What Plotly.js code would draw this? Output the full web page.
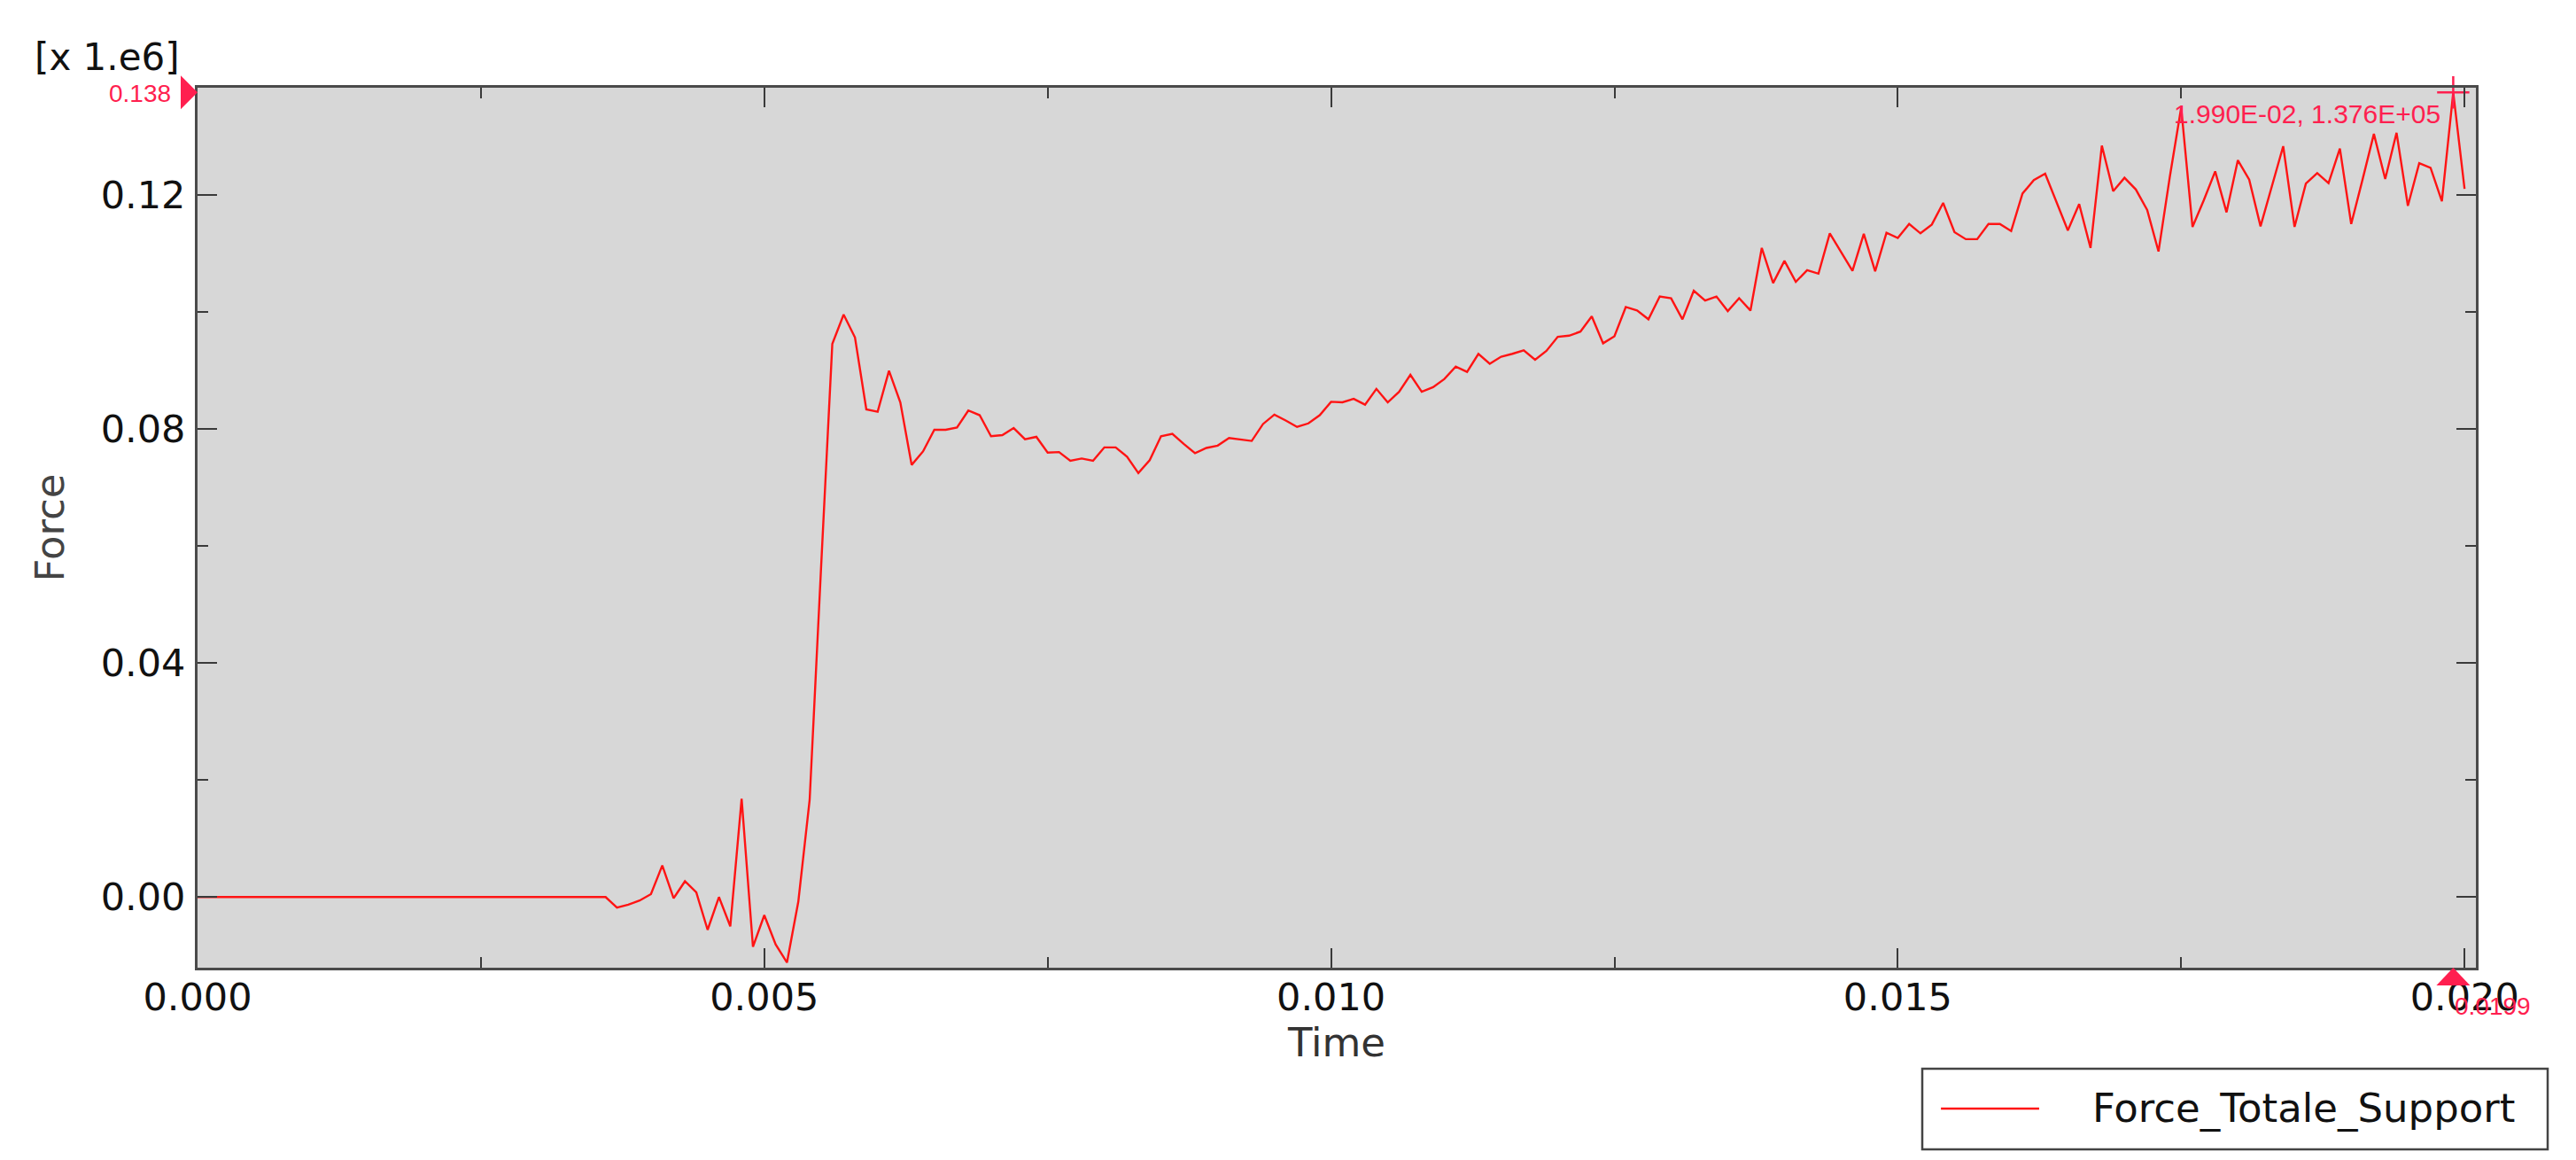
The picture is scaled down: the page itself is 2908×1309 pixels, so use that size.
<!DOCTYPE html>
<html>
<head>
<meta charset="utf-8">
<script src="https://cdn.plot.ly/plotly-3.0.1.min.js"></script>
<style>
  html, body { margin: 0; padding: 0; background: #fff; }
  #chart { width: 2908px; height: 1309px; }
</style>
</head>
<body>
<div id="chart"></div>
<script>
// sampling of the history output (s)
var timeStart = 0;
var timeStep = 0.0001;

// Force_Totale_Support, in units of 1e6 N
var forceValues = [
  0, 0, 0, 0, 0, 0, 0, 0, 0, 0,
  0, 0, 0, 0, 0, 0, 0, 0, 0, 0,
  0, 0, 0, 0, 0, 0, 0, 0, 0, 0,
  0, 0, 0, 0, 0, 0, 0, -0.0018, -0.0013, -0.0006,
  0.0005, 0.0054, -0.0002, 0.0027, 0.0008, -0.0056, 0.0000, -0.0050, 0.0168, -0.0085,
  -0.0031, -0.0081, -0.0112, -0.0008, 0.0166, 0.0560, 0.0946, 0.0996, 0.0957, 0.0834,
  0.0830, 0.0900, 0.0846, 0.0739, 0.0762, 0.0799, 0.0799, 0.0803, 0.0832, 0.0824,
  0.0788, 0.0790, 0.0802, 0.0783, 0.0787, 0.0760, 0.0761, 0.0746, 0.0750, 0.0746,
  0.0769, 0.0769, 0.0753, 0.0725, 0.0747, 0.0788, 0.0792, 0.0775, 0.0759, 0.0768,
  0.0772, 0.0785, 0.0783, 0.0780, 0.0809, 0.0825, 0.0815, 0.0804, 0.0810, 0.0824,
  0.0847, 0.0846, 0.0852, 0.0842, 0.0869, 0.0846, 0.0864, 0.0893, 0.0864, 0.0872,
  0.0886, 0.0907, 0.0898, 0.0929, 0.0912, 0.0924, 0.0929, 0.0935, 0.0919, 0.0934,
  0.0958, 0.0960, 0.0967, 0.0993, 0.0947, 0.0959, 0.1009, 0.1003, 0.0988, 0.1027,
  0.1024, 0.0988, 0.1037, 0.1020, 0.1027, 0.1002, 0.1024, 0.1003, 0.1110, 0.1050,
  0.1088, 0.1052, 0.1072, 0.1066, 0.1135, 0.1103, 0.1071, 0.1134, 0.1070, 0.1136,
  0.1127, 0.1151, 0.1135, 0.1150, 0.1187, 0.1137, 0.1125, 0.1125, 0.1151, 0.1151,
  0.1139, 0.1203, 0.1226, 0.1237, 0.1188, 0.1140, 0.1185, 0.1110, 0.1285, 0.1207,
  0.1230, 0.1210, 0.1175, 0.1104, 0.1232, 0.1350, 0.1146, 0.1192, 0.1241, 0.1171,
  0.1260, 0.1227, 0.1147, 0.1215, 0.1284, 0.1146, 0.1220, 0.1238, 0.1221, 0.1280,
  0.1151, 0.1227, 0.1305, 0.1228, 0.1307, 0.1182, 0.1255, 0.1247, 0.1190, 0.1376,
  0.1211
];

var seriesName = "Force_Totale_Support";
var xTickVals = [0, 0.005, 0.010, 0.015, 0.020];
var yTickVals = [0, 0.04, 0.08, 0.12];
var xRange = [0, 0.0201];
var yRange = [-0.01208, 0.1384];

var RED_LINE = "#ff1414";
var RED_MARK = "#ff1f4f";
var FONT = "DejaVu Sans";

// position of the maximum (Abaqus style min/max probe)
var iMax = 0;
forceValues.forEach(function (v, i) { if (v > forceValues[iMax]) iMax = i; });
var tMax = +(timeStart + iMax * timeStep).toFixed(6);
var vMax = forceValues[iMax];
var vMaxPaper = (vMax - yRange[0]) / (yRange[1] - yRange[0]);

function fmtE(v) {
    var s = v.toExponential(3).toUpperCase();
    return s.replace(/E([+-])(\d)$/, "E$10$2");
}

var traces = [{
    type: "scatter",
    mode: "lines",
    name: seriesName,
    x0: timeStart,
    dx: timeStep,
    y: forceValues,
    line: { color: RED_LINE, width: 2.4 },
    showlegend: false,
    hoverinfo: "skip"
}, {
    type: "scatter",
    mode: "markers",
    x: [tMax],
    y: [vMax],
    marker: { symbol: "cross-thin", size: 26, line: { color: RED_MARK, width: 2.5 } },
    cliponaxis: false,
    showlegend: false,
    hoverinfo: "skip"
}];

var axisCommon = {
    showgrid: false,
    zeroline: false,
    showline: true,
    linecolor: "#4a4a4a",
    linewidth: 3,
    mirror: "ticks",
    ticks: "inside",
    ticklen: 22,
    tickwidth: 2,
    tickcolor: "#3a3a3a",
    tickfont: { family: FONT, size: 43, color: "#111" },
    automargin: false
};

var layout = {
    width: 2908,
    height: 1309,
    margin: { l: 223, r: 113, t: 99, b: 217 },
    paper_bgcolor: "#ffffff",
    plot_bgcolor: "#d7d7d7",
    showlegend: false,
    xaxis: Object.assign({}, axisCommon, {
        range: xRange,
        tickvals: xTickVals,
        tickformat: ".3f",
        ticklabelstandoff: -7,
        minor: { ticks: "inside", ticklen: 12, tickwidth: 2, tickcolor: "#3a3a3a", dtick: 0.0025, tick0: 0 },
        title: { text: "Time", font: { family: FONT, size: 45, color: "#333" }, standoff: 12 }
    }),
    yaxis: Object.assign({}, axisCommon, {
        range: yRange,
        tickvals: yTickVals,
        tickformat: ".2f",
        ticklabelstandoff: 2,
        minor: { ticks: "inside", ticklen: 12, tickwidth: 2, tickcolor: "#3a3a3a", dtick: 0.02, tick0: 0 },
        title: { text: "Force", font: { family: FONT, size: 45, color: "#444" }, standoff: 27 }
    }),
    shapes: [
        // max probe on the Y axis
        {
            type: "path", xref: "paper", yref: "paper",
            xsizemode: "pixel", xanchor: 0,
            ysizemode: "pixel", yanchor: vMaxPaper,
            path: "M-19,19 L0,0 L-19,-19 Z",
            fillcolor: RED_MARK, line: { width: 0 }
        },
        // max probe on the X axis
        {
            type: "path", xref: "x", yref: "paper",
            xsizemode: "pixel", xanchor: tMax,
            ysizemode: "pixel", yanchor: 0,
            path: "M0,0 L-19,-20 L19,-20 Z",
            fillcolor: RED_MARK, line: { width: 0 }
        },
        // legend box
        {
            type: "rect", xref: "paper", yref: "paper",
            x0: 0.757, x1: 1.0315, y0: -0.2064, y1: -0.1148,
            fillcolor: "#ffffff", line: { color: "#444", width: 2.5 }
        },
        {
            type: "line", xref: "paper", yref: "paper",
            x0: 0.7652, x1: 0.8083, y0: -0.160, y1: -0.160,
            line: { color: RED_LINE, width: 2.5 }
        }
    ],
    annotations: [
        {
            text: "[x 1.e6]", xref: "paper", yref: "paper",
            x: -0.0397, y: 1.0352, xanchor: "center", yanchor: "middle",
            showarrow: false, font: { family: FONT, size: 42, color: "#111" }
        },
        {
            text: vMax.toFixed(3), xref: "paper", yref: "paper",
            x: 0, y: vMaxPaper, xanchor: "right", yanchor: "middle", xshift: -28, yshift: -1,
            showarrow: false, font: { family: "Liberation Sans", size: 28, color: RED_MARK }
        },
        {
            text: tMax.toPrecision(3), xref: "x", yref: "paper",
            x: tMax, y: 0, xanchor: "left", yanchor: "top", yshift: -26,
            showarrow: false, font: { family: "Liberation Sans", size: 28, color: RED_MARK }
        },
        {
            text: fmtE(tMax) + ", " + fmtE(vMax * 1e6), xref: "x", yref: "y",
            x: tMax, y: vMax, xanchor: "right", yanchor: "top", xshift: -12, yshift: -6,
            showarrow: false, font: { family: "Liberation Sans", size: 30, color: RED_MARK }
        },
        {
            text: seriesName, xref: "paper", yref: "paper",
            x: 0.8309, y: -0.160, xanchor: "left", yanchor: "middle",
            showarrow: false, font: { family: FONT, size: 45, color: "#111" }
        }
    ]
};

Plotly.newPlot("chart", traces, layout, { staticPlot: true, displayModeBar: false });
</script>
</body>
</html>
